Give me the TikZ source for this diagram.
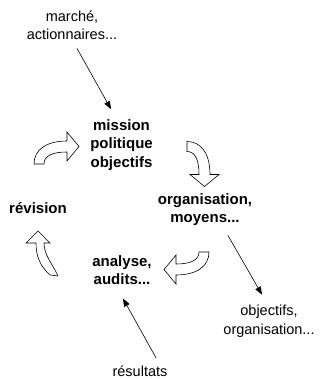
\documentclass[tikz,border=0pt]{standalone}
\usepackage{fontspec}
\setmainfont{Liberation Sans}
\usetikzlibrary{arrows.meta}

\begin{document}
\begin{tikzpicture}[x=1pt, y=-1pt, >={Triangle[length=8pt,width=6pt]}, line width=0.6pt,
    info/.style={align=center, inner sep=0pt, font=\fontsize{14.5}{18.5}\selectfont},
    stage/.style={info, font=\fontsize{15}{18.5}\selectfont\bfseries},
    bigarrow/.style={draw, fill=white, line width=0.6pt},
    pics/bent/.style={code={
        \draw[bigarrow] (-5,0) .. controls (-5,-14) and (7,-23) .. (28,-23)
            -- (28,-32) -- (40,-17.5) -- (28,-3) -- (28,-12)
            .. controls (13,-12) and (5,-8) .. (5,0) -- cycle;
    }}]
    \useasboundingbox (0,0) rectangle (320,379);

    % the cycle
    \node[stage] (mission) at (121.5,145) {mission\\politique\\objectifs};
    \node[stage] (orga) at (205,209.5) {organisation,\\moyens...};
    \node[stage] (analyse) at (122,270) {analyse,\\audits...};
    \node[stage] (revision) at (38,208.5) {révision};

    % inputs and outputs
    \node[info] (market) at (72,25) {marché,\\actionnaires...};
    \node[info] (targets) at (269,321) {objectifs,\\organisation...};
    \node[info] (results) at (140,371) {résultats};

    % block arrows between the stages
    \pic at (39,164) {bent};
    \pic[rotate=-90] at (187,146.5) {bent};
    \pic[rotate=180] at (204,252) {bent};
    \draw[bigarrow] (50,275) .. controls (40,266) and (36,256) .. (36,243)
        -- (26,243) -- (38,231) -- (50,243) -- (44,243)
        .. controls (44,255) and (52,263) .. (58,276) -- cycle;

    \draw[->] ([shift={(5,8.5)}]market.south) -- ([shift={(-10.5,-10)}]mission.north);
    \draw[->] ([shift={(23,9.5)}]orga.south) -- ([shift={(-7,-10)}]targets.north);
    \draw[->] ([shift={(16,-7.5)}]results.north) -- ([shift={(1,13.5)}]analyse.south);
\end{tikzpicture}
\end{document}
